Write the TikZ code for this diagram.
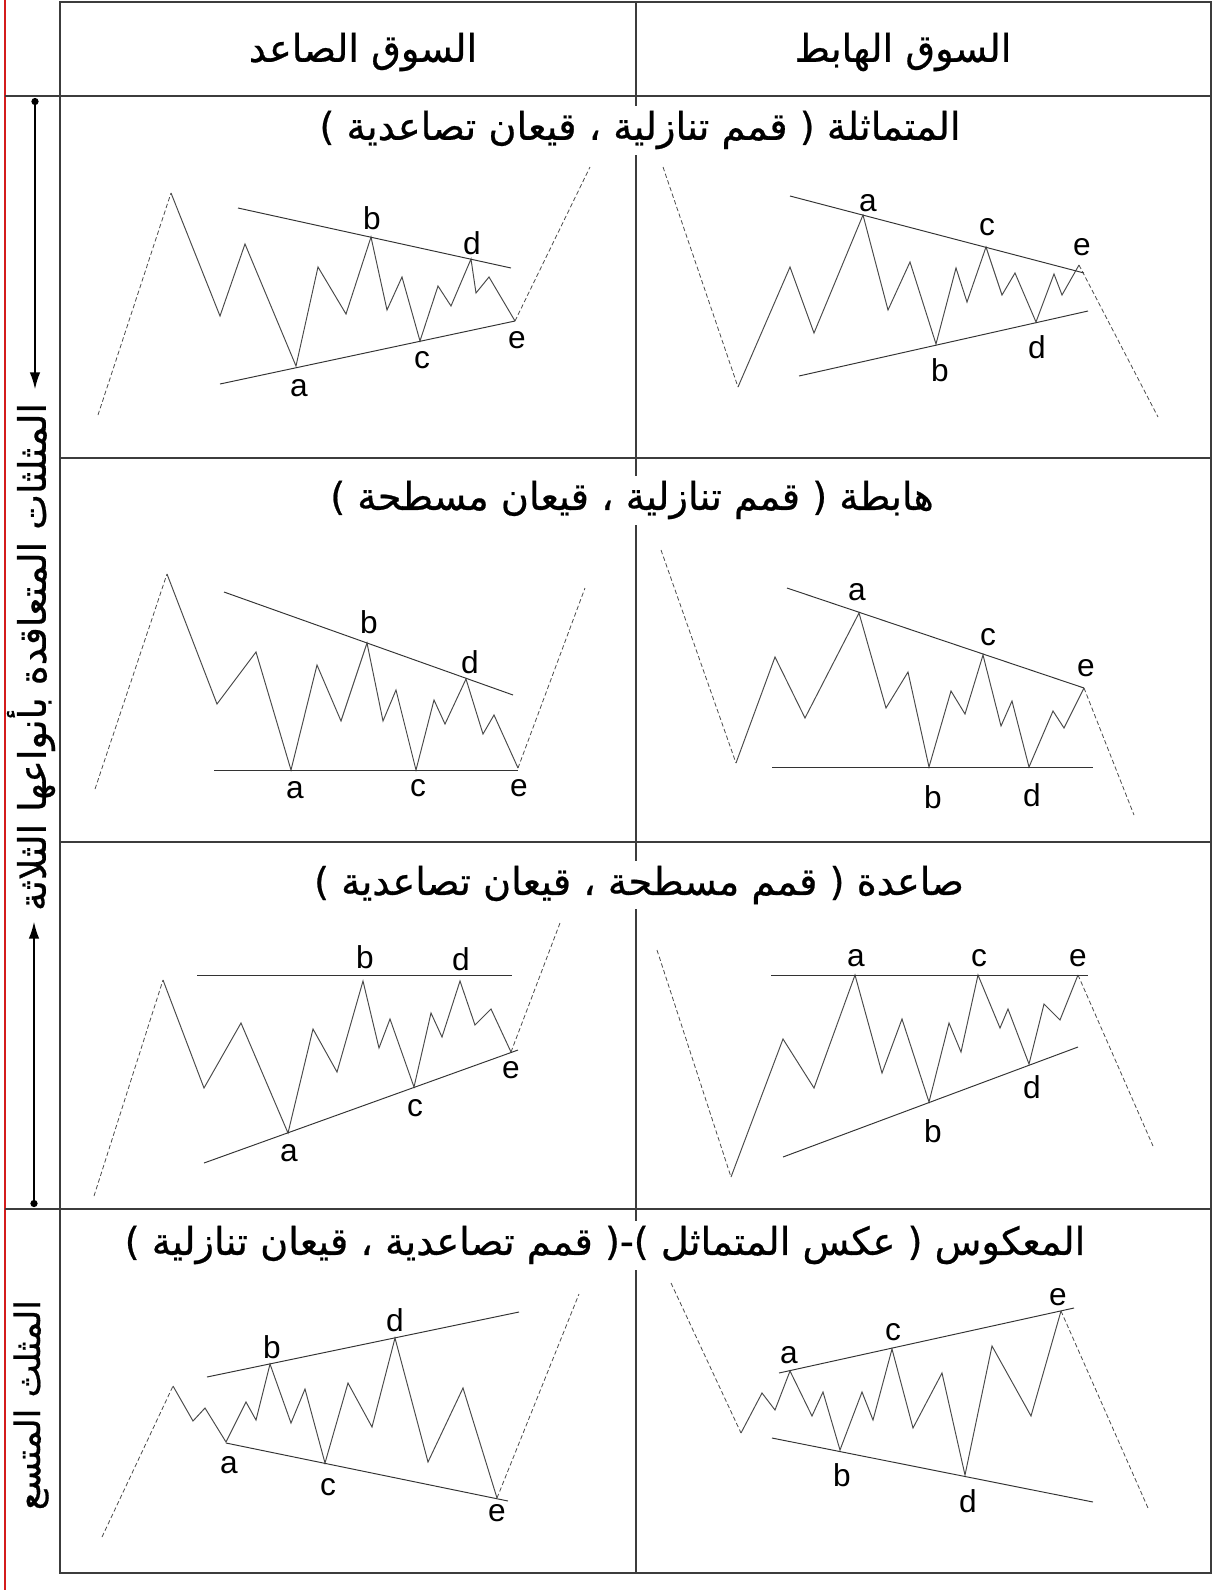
\documentclass[tikz,border=0pt]{standalone}
\usepackage{fontspec}
\setmainfont{Liberation Sans}
\newfontfamily\arabicfont[Script=Arabic, FakeBold=0.6]{DejaVu Sans}
\TeXXeTstate=1
\usetikzlibrary{arrows.meta}
\definecolor{cgrid}{HTML}{3C3C3C}
\definecolor{cwave}{HTML}{4A4A4A}
\definecolor{cmargin}{HTML}{D41C1C}
\tikzset{
  every picture/.style={x=0.02cm, y=-0.02cm},
  tabline/.style={draw=cgrid, line width=0.9pt},
  wave/.style={draw=cwave, line width=0.55pt},
  trend/.style={draw=black!80, line width=0.55pt},
  lead/.style={draw=cwave, line width=0.45pt, dash pattern=on 2.5pt off 1.5pt},
  lbl/.style={font=\fontsize{18}{20}\selectfont, inner sep=0pt},
  head/.style={font=\arabicfont\fontsize{21.8}{26}\selectfont, fill=white, inner sep=3pt},
  side/.style={font=\arabicfont\fontsize{#1}{26}\selectfont, rotate=90, inner sep=0pt},
  side/.default=21.6,
  spanarrow/.style={line width=1.5pt, {Circle[length=4pt]}-{Latex[length=10pt, width=6pt]}},
}

\begin{document}
\begin{tikzpicture}
  \useasboundingbox (0,0) rectangle (1214,1590);
  % table
  \draw[cmargin, line width=0.8pt] (5,0) -- (5,1590);
  \draw[tabline] (60,2) rectangle (1211,1573);
  \draw[tabline] (5,96) -- (1211,96);
  \draw[tabline] (60,458) -- (1211,458);
  \draw[tabline] (60,842) -- (1211,842);
  \draw[tabline] (5,1209) -- (1211,1209);
  \draw[tabline] (636,2) -- (636,1573);
  \node[head] (bull) at (363,52) {\beginR السوق الصاعد\endR};
  \node[head] (bear) at (903,52) {\beginR السوق الهابط\endR};
  % left column
  \node[side] (contr) at (31,657) {\beginR المثلثات المتعاقدة بأنواعها الثلاثة\endR};
  \node[side=20] (expd) at (31,1405) {\beginR المثلث المتسع\endR};
  \coordinate (topdot) at (35,98);
  \coordinate (toptip) at (35,390);
  \coordinate (botdot) at (34,1207);
  \coordinate (bottip) at (34,921);
  \draw[spanarrow] (topdot) -- (toptip);
  \draw[spanarrow] (botdot) -- (bottip);
  % row 1: symmetrical
  \node[head] (sym) at (640,130) {\beginR المتماثلة ( قمم تنازلية ، قيعان تصاعدية )\endR};
  \draw[lead] (98,415) -- (171,193);
  \draw[wave] (171,193) -- (220,316) -- (245,244) -- (296,366) -- (318,267) -- (346,314) -- (371,237) -- (387,310) -- (402,277) -- (420,341) -- (438,286) -- (451,306) -- (471,259) -- (476,293) -- (489,277) -- (515,321);
  \draw[lead] (515,321) -- (590,167);
  \draw[trend] (238,208) -- (511,268);
  \draw[trend] (220,384) -- (515,321);
  \node[lbl] (u1a) at (299,388) {a};
  \node[lbl] (u1b) at (372,218) {b};
  \node[lbl] (u1c) at (422,360) {c};
  \node[lbl] (u1d) at (472,243) {d};
  \node[lbl] (u1e) at (517,340) {e};
  \draw[lead] (663,167) -- (738,387);
  \draw[wave] (738,387) -- (790,267) -- (814,333) -- (863,215) -- (888,310) -- (910,262) -- (936,344) -- (956,268) -- (967,302) -- (986,247) -- (1002,295) -- (1015,273) -- (1036,322) -- (1054,274) -- (1062,295) -- (1079,265);
  \draw[lead] (1079,265) -- (1158,417);
  \draw[trend] (790,196) -- (1084,273);
  \draw[trend] (799,376) -- (1088,311);
  \node[lbl] (d1a) at (868,203) {a};
  \node[lbl] (d1b) at (940,370) {b};
  \node[lbl] (d1c) at (987,227) {c};
  \node[lbl] (d1d) at (1037,347) {d};
  \node[lbl] (d1e) at (1082,247) {e};
  % row 2: descending
  \node[head] (desc) at (632,500) {\beginR هابطة ( قمم تنازلية ، قيعان مسطحة )\endR};
  \draw[lead] (95,789) -- (167,574);
  \draw[wave] (167,574) -- (217,704) -- (256,652) -- (291,770) -- (317,665) -- (341,721) -- (367,643) -- (383,721) -- (396,690) -- (416,770) -- (434,700) -- (445,724) -- (466,679) -- (483,734) -- (494,715) -- (518,768);
  \draw[lead] (518,768) -- (585,588);
  \draw[trend] (224,592) -- (513,695);
  \draw[trend] (214,770) -- (518,770);
  \node[lbl] (u2a) at (295,790) {a};
  \node[lbl] (u2b) at (369,622) {b};
  \node[lbl] (u2c) at (418,788) {c};
  \node[lbl] (u2d) at (470,662) {d};
  \node[lbl] (u2e) at (519,788) {e};
  \draw[lead] (661,550) -- (736,763);
  \draw[wave] (736,763) -- (775,657) -- (805,718) -- (859,613) -- (886,708) -- (908,672) -- (929,767) -- (951,691) -- (965,714) -- (983,655) -- (1001,726) -- (1012,701) -- (1029,767) -- (1053,711) -- (1064,728) -- (1084,688);
  \draw[lead] (1084,688) -- (1134,815);
  \draw[trend] (787,588) -- (1084,688);
  \draw[trend] (772,767) -- (1093,767);
  \node[lbl] (d2a) at (857,592) {a};
  \node[lbl] (d2b) at (933,797) {b};
  \node[lbl] (d2c) at (988,637) {c};
  \node[lbl] (d2d) at (1032,795) {d};
  \node[lbl] (d2e) at (1086,668) {e};
  % row 3: ascending
  \node[head] (asc) at (639,885) {\beginR صاعدة ( قمم مسطحة ، قيعان تصاعدية )\endR};
  \draw[lead] (94,1196) -- (163,980);
  \draw[wave] (163,980) -- (204,1088) -- (241,1023) -- (288,1133) -- (313,1029) -- (337,1072) -- (363,981) -- (379,1048) -- (390,1019) -- (414,1087) -- (431,1013) -- (442,1037) -- (460,981) -- (475,1025) -- (491,1009) -- (511,1052);
  \draw[lead] (511,1052) -- (560,923);
  \draw[trend] (197,975) -- (512,975);
  \draw[trend] (204,1163) -- (518,1050);
  \node[lbl] (u3a) at (289,1153) {a};
  \node[lbl] (u3b) at (365,957) {b};
  \node[lbl] (u3c) at (415,1108) {c};
  \node[lbl] (u3d) at (461,959) {d};
  \node[lbl] (u3e) at (511,1070) {e};
  \draw[lead] (657,950) -- (731,1177);
  \draw[wave] (731,1177) -- (783,1039) -- (814,1088) -- (855,975) -- (882,1073) -- (902,1019) -- (929,1102) -- (949,1023) -- (961,1052) -- (978,975) -- (1000,1028) -- (1008,1009) -- (1029,1064) -- (1044,1004) -- (1060,1020) -- (1078,975);
  \draw[lead] (1078,975) -- (1153,1146);
  \draw[trend] (771,975) -- (1088,975);
  \draw[trend] (783,1157) -- (1078,1047);
  \node[lbl] (d3a) at (856,958) {a};
  \node[lbl] (d3b) at (933,1131) {b};
  \node[lbl] (d3c) at (979,958) {c};
  \node[lbl] (d3d) at (1032,1087) {d};
  \node[lbl] (d3e) at (1078,958) {e};
  % row 4: expanding
  \node[head] (expn) at (605,1245) {\beginR المعكوس ( عكس المتماثل )-( قمم تصاعدية ، قيعان تنازلية )\endR};
  \draw[lead] (102,1537) -- (173,1386);
  \draw[wave] (173,1386) -- (193,1421) -- (205,1408) -- (226,1442) -- (246,1402) -- (256,1420) -- (270,1364) -- (291,1423) -- (305,1389) -- (325,1463) -- (348,1383) -- (372,1427) -- (395,1338) -- (428,1462) -- (463,1388) -- (497,1498);
  \draw[lead] (497,1498) -- (579,1294);
  \draw[trend] (207,1377) -- (519,1312);
  \draw[trend] (226,1443) -- (508,1501);
  \node[lbl] (u4a) at (229,1465) {a};
  \node[lbl] (u4b) at (272,1347) {b};
  \node[lbl] (u4c) at (328,1487) {c};
  \node[lbl] (u4d) at (395,1320) {d};
  \node[lbl] (u4e) at (497,1513) {e};
  \draw[lead] (671,1283) -- (741,1433);
  \draw[wave] (741,1433) -- (762,1393) -- (775,1410) -- (790,1371) -- (812,1416) -- (823,1392) -- (840,1450) -- (862,1392) -- (873,1420) -- (892,1349) -- (913,1428) -- (942,1373) -- (965,1475) -- (992,1346) -- (1031,1416) -- (1061,1311);
  \draw[lead] (1061,1311) -- (1148,1508);
  \draw[trend] (779,1373) -- (1074,1308);
  \draw[trend] (772,1438) -- (1093,1502);
  \node[lbl] (d4a) at (789,1355) {a};
  \node[lbl] (d4b) at (842,1475) {b};
  \node[lbl] (d4c) at (893,1332) {c};
  \node[lbl] (d4d) at (968,1501) {d};
  \node[lbl] (d4e) at (1058,1297) {e};
\end{tikzpicture}
\end{document}
